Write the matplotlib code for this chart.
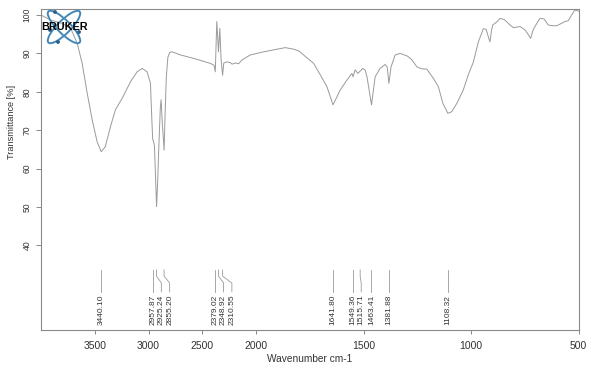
import numpy as np
import matplotlib
matplotlib.use("Agg")
import matplotlib.pyplot as plt
from matplotlib.patches import Ellipse, Circle

plt.rcParams['font.family'] = ['Liberation Sans', 'DejaVu Sans']

# spectrum
wavenumber = [4000, 3912, 3800, 3720, 3663, 3617, 3570, 3524, 3478, 3440,
              3402, 3354, 3308, 3245, 3168, 3106, 3059, 3013, 2982, 2968,
              2961, 2955, 2945, 2935, 2925, 2915, 2905, 2890, 2883, 2872,
              2855, 2845, 2834, 2820, 2800, 2781, 2703, 2580, 2425, 2390,
              2379, 2365, 2349, 2337, 2325, 2311, 2300, 2270, 2240, 2223,
              2190, 2162, 2130, 2053, 1965, 1902, 1864, 1825, 1800, 1779,
              1732, 1701, 1670, 1642, 1608, 1577, 1554, 1549, 1539, 1526,
              1516, 1503, 1492, 1484, 1463, 1446, 1423, 1400, 1390, 1382,
              1372, 1353, 1330, 1296, 1275, 1252, 1230, 1206, 1175, 1152,
              1131, 1108, 1090, 1066, 1036, 1013, 989, 966, 943, 930,
              918, 912, 905, 899, 880, 865, 845, 819, 803, 772,
              749, 735, 723, 712, 703, 680, 661, 641, 620, 602,
              580, 563, 548, 532, 517, 500]
transmittance = [100.0, 98.7, 97.8, 96.3, 92.6, 87.4, 79.6, 72.7, 67.0, 64.4,
                 65.7, 70.9, 75.3, 78.3, 82.6, 85.2, 86.1, 85.2, 82.2, 72.0,
                 67.6, 67.2, 66.0, 58.0, 50.1, 56.5, 65.0, 76.0, 77.9, 72.0,
                 64.8, 75.0, 84.0, 89.0, 90.3, 90.4, 89.6, 88.7, 87.4, 86.9,
                 85.2, 98.3, 90.4, 96.5, 88.5, 84.3, 87.5, 87.8, 87.6, 87.2,
                 87.5, 87.3, 88.3, 89.6, 90.4, 91.1, 91.5, 91.1, 90.6, 89.6,
                 87.4, 84.4, 81.3, 76.6, 80.5, 83.1, 84.8, 83.9, 85.7, 84.8,
                 85.4, 86.1, 85.6, 83.9, 76.6, 83.9, 86.1, 87.1, 86.5, 82.2,
                 86.5, 89.6, 90.0, 89.3, 88.3, 86.5, 86.0, 85.9, 83.5, 81.3,
                 77.0, 74.4, 74.8, 77.0, 80.5, 84.4, 87.8, 93.0, 96.4, 96.3,
                 94.0, 93.0, 96.0, 97.4, 98.2, 99.1, 98.8, 97.4, 96.7, 97.0,
                 96.1, 95.0, 93.9, 96.0, 97.0, 99.1, 99.0, 97.4, 97.2, 97.2,
                 97.8, 98.3, 98.5, 100.0, 101.3, 101.0]

peaks = [3440.10, 2957.87, 2925.24, 2855.20, 2379.02, 2348.92, 2310.55,
         1641.80, 1549.36, 1515.71, 1463.41, 1381.88, 1108.32]
peak_labels = ['3440.10', '2957.87', '2925.24', '2855.20', '2379.02', '2348.92',
               '2310.55', '1641.80', '1549.36', '1515.71', '1463.41', '1381.88',
               '1108.32']

x_ticks = [3500, 3000, 2500, 2000, 1500, 1000, 500]
y_ticks = [40, 50, 60, 70, 80, 90, 100]


# OPUS style axis: region above 2000 cm-1 is compressed by 2
def fwd(w):
    w = np.asarray(w, dtype=float)
    return np.where(w > 2000, 2000 + (w - 2000) / 2, w)


def inv(u):
    u = np.asarray(u, dtype=float)
    return np.where(u > 2000, 2000 + (u - 2000) * 2, u)


grey = '#9a9a9a'
axis_grey = '#8a8a8a'
text_col = '#333333'

W, H = 592, 369
fig = plt.figure(figsize=(W / 100, H / 100), dpi=100)
ax = fig.add_axes([41 / W, 1 - 330 / H, 538 / W, 321 / H])

ax.plot(wavenumber, transmittance, color=grey, lw=0.7)
ax.set_xscale('function', functions=(fwd, inv))
ax.set_xlim(4000, 498)
ax.set_ylim(17.97, 101.56)

ax.set_xticks(x_ticks)
ax.set_xticklabels([str(t) for t in x_ticks])
ax.set_yticks(y_ticks)
ax.set_yticklabels([str(t) for t in y_ticks], rotation=90, va='center')
ax.minorticks_off()

ax.tick_params(axis='x', length=3, width=0.7, color=axis_grey, pad=5,
               labelsize=7.5, labelcolor=text_col)
ax.tick_params(axis='y', length=3.6, width=0.7, color=axis_grey, pad=3,
               labelsize=6.2, labelcolor=text_col)
for s in ax.spines.values():
    s.set_color(axis_grey)
    s.set_linewidth(0.8)

ax.set_xlabel('Wavenumber cm-1', fontsize=7.3, color=text_col, labelpad=2)
ax.set_ylabel('Transmittance [%]', fontsize=6.6, color=text_col)
ax.yaxis.set_label_coords(-0.047, 0.648)

# peak markers with labels pushed apart where they crowd
y_top, y_k1, y_k2, y_bot, y_txt = 33.6, 32.0, 30.2, 27.9, 19.3
gap = 8.3
px = [ax.transData.transform((p, y_top))[0] for p in peaks]
lab_px = []
for x in px:
    if lab_px and x < lab_px[-1] + gap:
        x = lab_px[-1] + gap
    lab_px.append(x)
inv_t = ax.transData.inverted()
lab_w = [inv_t.transform((x, 0))[0] for x in lab_px]

for p, lw_, lab in zip(peaks, lab_w, peak_labels):
    ax.plot([p, p, lw_, lw_], [y_top, y_k1, y_k2, y_bot], color=grey, lw=0.6)
    ax.text(lw_, y_txt, lab, rotation=90, ha='center', va='bottom',
            fontsize=6, color=text_col)

# Bruker logo
lax = fig.add_axes([40 / W, 1 - 52 / H, 50 / W, 50 / H])
lax.set_xlim(0, 50)
lax.set_ylim(50, 0)
lax.axis('off')
for ang in (45, -45):
    lax.add_patch(Ellipse((24, 25), 44, 13, angle=ang, fill=False,
                          ec='#5fa3d0', lw=1.5))
    lax.add_patch(Ellipse((24, 25), 44, 13, angle=ang, fill=False,
                          ec='#2a5f8a', lw=0.4))
for cx, cy in [(15, 10), (39, 30), (10, 28), (18, 40)]:
    lax.add_patch(Circle((cx, cy), 1.2, color='#2a5f8a'))
lax.text(24.5, 25, 'BRUKER', ha='center', va='center', fontsize=7.8,
         fontweight='bold', color='black')

fig.savefig('out.png', dpi=100)
